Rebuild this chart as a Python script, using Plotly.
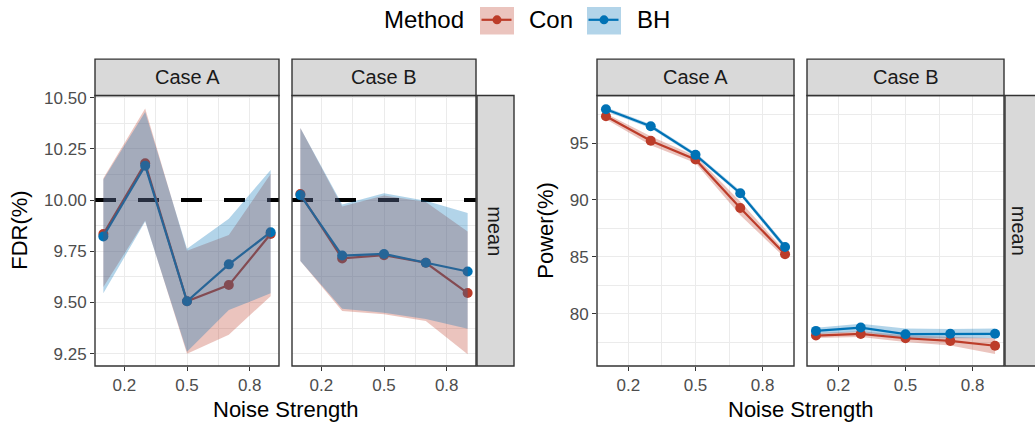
import plotly.graph_objects as go

# ---------------- data ----------------
noise = [0.1, 0.3, 0.5, 0.7, 0.9]
x_ticks = [0.2, 0.5, 0.8]
x_range = [0.06, 0.94]
methods = ["Con", "BH"]
cases = ["Case A", "Case B"]
stat_label = "mean"
fdr_target = 10.0

# FDR(%) - Case A
fdr_a_con = [9.834, 10.179, 9.506, 9.585, 9.834]
fdr_a_con_lo = [9.575, 9.900, 9.250, 9.343, 9.531]
fdr_a_con_hi = [10.106, 10.447, 9.752, 9.829, 10.127]
fdr_a_bh = [9.822, 10.167, 9.506, 9.686, 9.843]
fdr_a_bh_lo = [9.545, 9.895, 9.260, 9.463, 9.545]
fdr_a_bh_hi = [10.100, 10.430, 9.762, 9.909, 10.147]

# FDR(%) - Case B
fdr_b_con = [10.029, 9.715, 9.731, 9.694, 9.546]
fdr_b_con_lo = [9.702, 9.458, 9.443, 9.410, 9.247]
fdr_b_con_hi = [10.352, 9.968, 10.022, 9.990, 9.846]
fdr_b_bh = [10.024, 9.729, 9.737, 9.694, 9.651]
fdr_b_bh_lo = [9.702, 9.470, 9.450, 9.420, 9.372]
fdr_b_bh_hi = [10.352, 9.978, 10.033, 9.997, 9.937]

# Power(%) - Case A
pow_a_con = [97.36, 95.20, 93.56, 89.29, 85.22]
pow_a_con_lo = [97.10, 94.80, 93.25, 88.65, 84.90]
pow_a_con_hi = [97.60, 95.60, 93.85, 89.85, 85.50]
pow_a_bh = [97.97, 96.47, 93.96, 90.59, 85.86]
pow_a_bh_lo = [97.80, 96.30, 93.80, 90.40, 85.60]
pow_a_bh_hi = [98.15, 96.65, 94.15, 90.80, 86.10]

# Power(%) - Case B
pow_b_con = [78.07, 78.21, 77.83, 77.60, 77.17]
pow_b_con_lo = [77.85, 77.95, 77.50, 77.20, 76.45]
pow_b_con_hi = [78.30, 78.45, 78.10, 77.98, 77.84]
pow_b_bh = [78.48, 78.77, 78.19, 78.22, 78.22]
pow_b_bh_lo = [78.20, 78.40, 77.84, 77.84, 77.84]
pow_b_bh_hi = [78.75, 79.10, 78.70, 78.65, 78.70]

fdr_ticks = [9.25, 9.50, 9.75, 10.00, 10.25, 10.50]
fdr_minor = [9.375, 9.625, 9.875, 10.125, 10.375]
pow_ticks = [80, 85, 90, 95]
pow_minor = [77.5, 82.5, 87.5, 92.5, 97.5]
x_minor = [0.35, 0.65]

# ---------------- style ----------------
W, H = 1035, 427
FONT = "Liberation Sans, Arial, Helvetica, sans-serif"
COL = {"Con": "#BC3C29", "BH": "#0072B5"}
FILL = {"Con": "rgba(188,60,41,0.3)", "BH": "rgba(0,114,181,0.3)"}
GRID = "#EBEBEB"
DARK = "#333333"
TICKC = "#4D4D4D"
STRIP_FILL = "#D9D9D9"

def px(x):
    return x / W

def py(y):
    return 1 - y / H

# panel pixel boxes (left, right)
PANEL_X = [(95, 279), (292, 476), (597, 794), (807, 1004)]
PANEL_Y = (90, 365)
STRIP_TOP = 53

fig = go.Figure()

panels = [
    dict(n=1, ax="x", ay="y", data={"Con": (fdr_a_con, fdr_a_con_lo, fdr_a_con_hi),
                                    "BH": (fdr_a_bh, fdr_a_bh_lo, fdr_a_bh_hi)}, fdr=True),
    dict(n=2, ax="x2", ay="y2", data={"Con": (fdr_b_con, fdr_b_con_lo, fdr_b_con_hi),
                                      "BH": (fdr_b_bh, fdr_b_bh_lo, fdr_b_bh_hi)}, fdr=True),
    dict(n=3, ax="x3", ay="y3", data={"Con": (pow_a_con, pow_a_con_lo, pow_a_con_hi),
                                      "BH": (pow_a_bh, pow_a_bh_lo, pow_a_bh_hi)}, fdr=False),
    dict(n=4, ax="x4", ay="y4", data={"Con": (pow_b_con, pow_b_con_lo, pow_b_con_hi),
                                      "BH": (pow_b_bh, pow_b_bh_lo, pow_b_bh_hi)}, fdr=False),
]


def add_ribbons(p):
    for m in methods:
        mean, lo, hi = p["data"][m]
        fig.add_trace(go.Scatter(
            x=noise + noise[::-1], y=hi + lo[::-1], fill="toself",
            fillcolor=FILL[m], line=dict(width=0), mode="lines",
            xaxis=p["ax"], yaxis=p["ay"], showlegend=False, hoverinfo="skip"))


def add_lines(p):
    for m in methods:
        mean, lo, hi = p["data"][m]
        fig.add_trace(go.Scatter(
            x=noise, y=mean, mode="lines+markers",
            line=dict(color=COL[m], width=2.2),
            marker=dict(color=COL[m], size=10),
            xaxis=p["ax"], yaxis=p["ay"], showlegend=False, name=m))


for p in panels:
    if p["fdr"]:
        # nominal FDR level, drawn under the ribbons
        fig.add_trace(go.Scatter(
            x=x_range, y=[fdr_target, fdr_target], mode="lines",
            line=dict(color="black", width=4, dash="21px,22px"),
            xaxis=p["ax"], yaxis=p["ay"], showlegend=False, hoverinfo="skip"))
        add_lines(p)
        add_ribbons(p)
    else:
        add_ribbons(p)
        add_lines(p)

layout = dict(
    width=W, height=H,
    margin=dict(l=0, r=0, t=0, b=0),
    paper_bgcolor="white", plot_bgcolor="white",
    showlegend=False,
    font=dict(family=FONT, color=TICKC),
)

tickfont = dict(family=FONT, size=17, color=TICKC)
for i, p in enumerate(panels):
    n = p["n"]
    xl, xr = PANEL_X[i]
    sfx = "" if n == 1 else str(n)
    layout["xaxis" + sfx] = dict(
        domain=[px(xl), px(xr)], range=x_range, anchor="y" + sfx,
        tickvals=x_ticks, ticks="outside", ticklen=4, tickcolor=DARK, tickwidth=1.2,
        showgrid=True, gridcolor=GRID, gridwidth=1.3, zeroline=False, showline=False,
        minor=dict(tickvals=x_minor, showgrid=True, gridcolor=GRID, gridwidth=0.7, ticks=""),
        tickfont=tickfont, fixedrange=True,
    )
    is_fdr = p["fdr"]
    yrange = [9.19, 10.51] if is_fdr else [75.39, 99.18]
    ymaj = fdr_ticks if is_fdr else pow_ticks
    ymin = fdr_minor if is_fdr else pow_minor
    first = n in (1, 3)
    layout["yaxis" + sfx] = dict(
        domain=[py(PANEL_Y[1]), py(PANEL_Y[0])], range=yrange, anchor="x" + sfx,
        tickvals=ymaj, tickformat=".2f" if is_fdr else "d",
        ticks="outside" if first else "", ticklen=4, tickcolor=DARK, tickwidth=1.2,
        showticklabels=first,
        showgrid=True, gridcolor=GRID, gridwidth=1.3, zeroline=False, showline=False,
        minor=dict(tickvals=ymin, showgrid=True, gridcolor=GRID, gridwidth=0.7, ticks=""),
        tickfont=tickfont, fixedrange=True,
    )

shapes = []
annotations = []

# panel borders
for i, (xl, xr) in enumerate(PANEL_X):
    shapes.append(dict(type="rect", xref="paper", yref="paper",
                       x0=px(xl), x1=px(xr), y0=py(PANEL_Y[1]), y1=py(PANEL_Y[0]),
                       line=dict(color=DARK, width=1.4),
                       fillcolor="rgba(0,0,0,0)", layer="above"))

# top strips
strip_font = dict(family=FONT, size=20, color="#1A1A1A")
for i, (xl, xr) in enumerate(PANEL_X):
    shapes.append(dict(type="rect", xref="paper", yref="paper",
                       x0=px(xl), x1=px(xr), y0=py(PANEL_Y[0]), y1=py(STRIP_TOP),
                       fillcolor=STRIP_FILL, line=dict(color=DARK, width=1.4), layer="above"))
    annotations.append(dict(text=cases[i % 2], xref="paper", yref="paper",
                            x=px((xl + xr) / 2), y=py((STRIP_TOP + PANEL_Y[0]) / 2),
                            showarrow=False, font=strip_font, xanchor="center", yanchor="middle"))

# right strips
for (sl, sr) in [(477, 514), (1005, 1036)]:
    shapes.append(dict(type="rect", xref="paper", yref="paper",
                       x0=px(sl), x1=px(sr), y0=py(PANEL_Y[1]), y1=py(PANEL_Y[0]),
                       fillcolor=STRIP_FILL, line=dict(color=DARK, width=1.4), layer="above"))
for sc in [495.5, 1019]:
    annotations.append(dict(text=stat_label, xref="paper", yref="paper",
                            x=px(sc), y=py(sum(PANEL_Y) / 2), textangle=90,
                            showarrow=False, font=strip_font, xanchor="center", yanchor="middle"))

# axis titles
title_font = dict(family=FONT, size=22, color="black")
annotations.append(dict(text="Noise Strength", xref="paper", yref="paper",
                        x=px((95 + 476) / 2), y=py(409), showarrow=False, font=title_font,
                        xanchor="center", yanchor="middle"))
annotations.append(dict(text="Noise Strength", xref="paper", yref="paper",
                        x=px((597 + 1004) / 2), y=py(409), showarrow=False, font=title_font,
                        xanchor="center", yanchor="middle"))
annotations.append(dict(text="FDR(%)", xref="paper", yref="paper",
                        x=px(20), y=py(sum(PANEL_Y) / 2), textangle=-90, showarrow=False,
                        font=title_font, xanchor="center", yanchor="middle"))
annotations.append(dict(text="Power(%)", xref="paper", yref="paper",
                        x=px(546), y=py(sum(PANEL_Y) / 2), textangle=-90, showarrow=False,
                        font=title_font, xanchor="center", yanchor="middle"))

# legend (manual)
leg_font = dict(family=FONT, size=24, color="black")
leg_y = 13
annotations.append(dict(text="Method", xref="paper", yref="paper", x=px(466), y=py(leg_y),
                        showarrow=False, font=leg_font, xanchor="right", yanchor="middle"))
key_boxes = {"Con": (480, 514), "BH": (587, 621)}
label_x = {"Con": 527, "BH": 635}
for m in methods:
    kl, kr = key_boxes[m]
    shapes.append(dict(type="rect", xref="paper", yref="paper",
                       x0=px(kl), x1=px(kr), y0=py(28), y1=py(0),
                       fillcolor=FILL[m], line=dict(width=0), layer="above"))
    shapes.append(dict(type="line", xref="paper", yref="paper",
                       x0=px(kl + 1.5), x1=px(kr - 2.5), y0=py(leg_y), y1=py(leg_y),
                       line=dict(color=COL[m], width=2.2), layer="above"))
    cx = (kl + kr) / 2
    r = 4.5
    shapes.append(dict(type="circle", xref="paper", yref="paper",
                       x0=px(cx - r), x1=px(cx + r), y0=py(leg_y + r), y1=py(leg_y - r),
                       fillcolor=COL[m], line=dict(width=0), layer="above"))
    annotations.append(dict(text=m, xref="paper", yref="paper", x=px(label_x[m]), y=py(leg_y),
                            showarrow=False, font=leg_font, xanchor="left", yanchor="middle"))

layout["shapes"] = shapes
layout["annotations"] = annotations
fig.update_layout(**layout)

fig.write_html(
    "out.html",
    config={"displayModeBar": False},
    post_script=(
        "document.documentElement.style.margin='0';"
        "document.documentElement.style.padding='0';"
        "document.documentElement.style.overflow='hidden';"
        "document.body.style.margin='0';document.body.style.padding='0';"
        "document.body.style.overflow='hidden';"
        "var gd=document.getElementById('{plot_id}');"
        "gd.style.position='absolute';gd.style.left='0px';gd.style.top='0px';"
    ),
)
